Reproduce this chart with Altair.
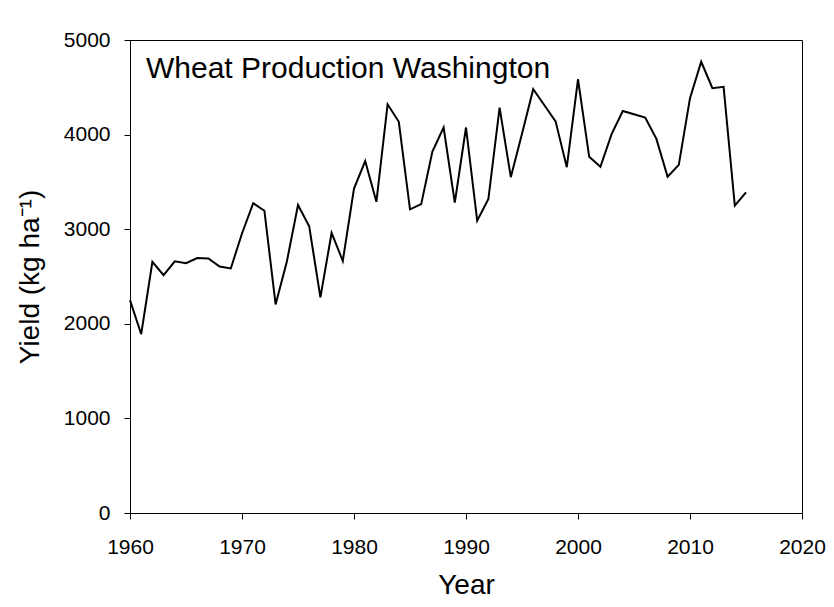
import altair as alt
import pandas as pd

years = [1960, 1961, 1962, 1963, 1964, 1965, 1966, 1967, 1968, 1969,
         1970, 1971, 1972, 1973, 1974, 1975, 1976, 1977, 1978, 1979,
         1980, 1981, 1982, 1983, 1984, 1985, 1986, 1987, 1988, 1989,
         1990, 1991, 1992, 1993, 1994, 1995, 1996, 1997, 1998, 1999,
         2000, 2001, 2002, 2003, 2004, 2005, 2006, 2007, 2008, 2009,
         2010, 2011, 2012, 2013, 2014, 2015]
yields = [2250, 1890, 2655, 2515, 2660, 2640, 2695, 2690, 2605, 2585,
          2955, 3275, 3195, 2205, 2655, 3255, 3030, 2280, 2960, 2665,
          3430, 3720, 3290, 4320, 4135, 3210, 3265, 3820, 4075, 3280,
          4075, 3090, 3320, 4285, 3550, 4010, 4480, 4310, 4140, 3655,
          4585, 3765, 3660, 4005, 4250, 4215, 4180, 3955, 3555, 3680,
          4385, 4770, 4490, 4505, 3250, 3390]
x_ticks = [1960, 1970, 1980, 1990, 2000, 2010, 2020]
y_ticks = [0, 1000, 2000, 3000, 4000, 5000]
label_text = ["Wheat Production Washington"]

df = pd.DataFrame({"Year": years, "Yield": yields})
df_label = pd.DataFrame({"label": label_text})

FONT = "Liberation Sans"
W, H = 672, 473

x_enc = alt.X(
    "Year:Q",
    scale=alt.Scale(domain=[1960, 2020], nice=False, zero=False),
    axis=alt.Axis(
        values=x_ticks, format="d", title="Year", grid=False,
        labelPadding=17, labelFlush=False, labelOverlap=False,
        titleX=W / 2, titleY=86, titleBaseline="bottom", titleAlign="center",
    ),
)
y_enc = alt.Y(
    "Yield:Q",
    scale=alt.Scale(domain=[0, 5000], nice=False),
    axis=alt.Axis(
        values=y_ticks, format="d", title="Yield (kg ha⁻¹)", grid=False,
        labelPadding=14, labelFlush=False, labelOverlap=False,
        titleX=-92, titleY=H / 2, titleAngle=270,
        titleBaseline="alphabetic", titleAlign="center",
    ),
)

line = alt.Chart(df).mark_line(color="black", strokeWidth=2).encode(x=x_enc, y=y_enc)

text = alt.Chart(df_label).mark_text(
    align="left", baseline="alphabetic", font=FONT, fontSize=30, color="black"
).encode(x=alt.value(16), y=alt.value(38), text="label:N")

chart = alt.layer(line, text).properties(
    width=W, height=H,
    autosize=alt.AutoSizeParams(type="none"),
    padding={"left": 122, "top": 32, "right": 24, "bottom": 86},
    background="white",
).configure_view(
    stroke="black", strokeWidth=1, fill="white"
).configure_axis(
    domainColor="black", domainWidth=1, tickColor="black", tickWidth=1, tickSize=6,
    labelFont=FONT, labelFontSize=21, labelColor="black",
    titleFont=FONT, titleFontSize=28, titleFontWeight="normal", titleColor="black",
)

chart.save("out.html", embed_options={"renderer": "svg", "actions": False})
